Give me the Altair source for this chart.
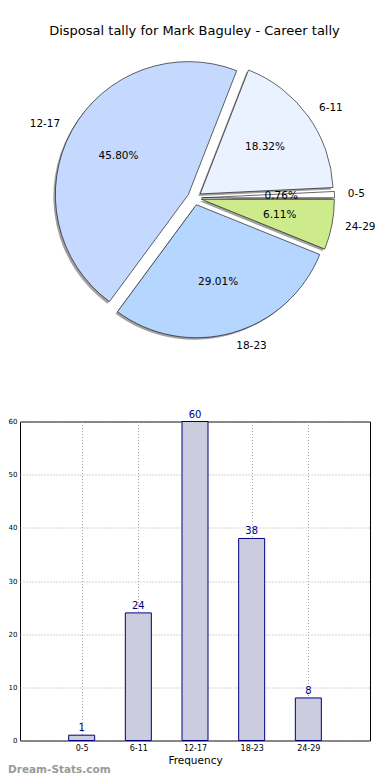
import math
import altair as alt
import pandas as pd

# ---------------- data ----------------
categories = ["0-5", "6-11", "12-17", "18-23", "24-29"]
counts = [1, 24, 60, 38, 8]
pie_colors = ["#ffffff", "#eaf1ff", "#c5d9ff", "#b5d6ff", "#cdeb8b"]
y_ticks = [0, 10, 20, 30, 40, 50, 60]
title_text = "Disposal tally for Mark Baguley - Career tally"
watermark = "Dream-Stats.com"

total = sum(counts)
df = pd.DataFrame({
    "cat": categories,
    "count": counts,
    "idx": list(range(1, len(categories) + 1)),
    "ord": list(range(len(categories), 0, -1)),
    "pct": [f"{c / total * 100:.2f}%" for c in counts],
})

FONT = "DejaVu Sans"
# geometry (relative to bar plot origin at page x=20, y=421.5)
CX, CY, R, EXPL, SH = 174.5, -223.5, 133, 7, 2

base = alt.Chart(df).transform_joinaggregate(
    tot="sum(count)"
).transform_window(
    cum="sum(count)", sort=[alt.SortField("ord")], frame=[None, 0]
).transform_calculate(
    mid="(datum.cum - datum.count/2)/datum.tot*2*PI + PI/2",
).transform_calculate(
    px=f"{CX} + {EXPL}*sin(datum.mid)",
    py=f"{CY} - {EXPL}*cos(datum.mid)",
).transform_calculate(
    sx=f"datum.px - {SH}",
    sy=f"datum.py + {SH}",
    lx=f"datum.px + {R * 1.1}*sin(datum.mid)",
    ly=f"datum.py - {R * 1.1}*cos(datum.mid)",
)

theta = alt.Theta("count:Q", stack=True,
                  scale=alt.Scale(range=[math.pi / 2, math.pi / 2 + 2 * math.pi]))
order = alt.Order("ord:Q")
color = alt.Color("cat:N", scale=alt.Scale(domain=categories, range=pie_colors), legend=None)

shadow = base.mark_arc(radius=R, fill="#8a8a8a", opacity=0.8).encode(
    theta=theta, order=order,
    x=alt.X("sx:Q", scale=None, axis=None), y=alt.Y("sy:Q", scale=None, axis=None),
)
wedges = base.mark_arc(radius=R, stroke="#000000", strokeWidth=0.6).encode(
    theta=theta, order=order, color=color,
    x=alt.X("px:Q", scale=None, axis=None), y=alt.Y("py:Q", scale=None, axis=None),
)
pct_text = base.mark_text(radius=R * 0.6, font=FONT, fontSize=10.5, color="black").encode(
    theta=theta, order=order, text="pct:N",
    x=alt.X("px:Q", scale=None, axis=None), y=alt.Y("py:Q", scale=None, axis=None),
)
lab_right = base.transform_filter("datum.cat != '12-17'").mark_text(
    align="left", baseline="middle", font=FONT, fontSize=10.5, color="black").encode(
    text="cat:N",
    x=alt.X("lx:Q", scale=None, axis=None), y=alt.Y("ly:Q", scale=None, axis=None),
)
lab_left = base.transform_filter("datum.cat == '12-17'").mark_text(
    align="right", baseline="middle", font=FONT, fontSize=10.5, color="black").encode(
    text="cat:N",
    x=alt.X("lx:Q", scale=None, axis=None), y=alt.Y("ly:Q", scale=None, axis=None),
)

title = alt.Chart(pd.DataFrame({"t": [title_text]})).mark_text(
    font=FONT, fontSize=13, color="black", align="center", baseline="middle"
).encode(x=alt.value(174.5), y=alt.value(-391), text="t:N")

wm = alt.Chart(pd.DataFrame({"t": [watermark]})).mark_text(
    font=FONT, fontSize=10.5, fontWeight="bold", color="#9a9a9a", align="left", baseline="middle"
).encode(x=alt.value(-12), y=alt.value(348.5), text="t:N")

pie = alt.layer(shadow, wedges, pct_text, lab_right, lab_left, title, wm)

label_expr = "[" + ",".join(f"'{c}'" for c in categories) + "][datum.value - 1]"

xenc = alt.X("idx:Q", scale=alt.Scale(domain=[0, 6], nice=False, zero=False),
             axis=alt.Axis(values=[1, 2, 3, 4, 5], labelExpr=label_expr, title="Frequency",
                           orient="bottom", grid=True, gridDash=[1, 2], gridColor="#a8a8a8",
                           ticks=False, domain=False, labelFontSize=8, labelFont=FONT,
                           labelColor="black", labelPadding=4, titleFont=FONT,
                           titleFontSize=10.5, titleFontWeight="normal", titleColor="black",
                           titlePadding=3))
yenc = alt.Y("count:Q", scale=alt.Scale(domain=[0, 60], nice=False),
             axis=alt.Axis(values=y_ticks, title=None, orient="left", grid=True,
                           gridDash=[1, 2], gridColor="#a8a8a8", ticks=False, domain=False,
                           labelFontSize=7, labelFont=FONT, labelColor="black",
                           labelPadding=3))

bars = alt.Chart(df).mark_bar(size=26, orient="vertical", fill="#ccccdf",
                              stroke="#00007f", strokeWidth=1).encode(x=xenc, y=yenc)
bar_txt = alt.Chart(df).mark_text(baseline="bottom", dy=-2, font=FONT, fontSize=10,
                                  color="#00007f").encode(x=xenc, y=yenc, text="count:Q")
bar_layer = alt.layer(bars, bar_txt)

chart = alt.layer(bar_layer, pie).resolve_scale(
    x="independent", y="independent"
).properties(
    width=350, height=319,
    autosize=alt.AutoSizeParams(type="none"),
    padding={"left": 12, "top": 413.5, "right": 12, "bottom": 39},
).configure_view(stroke="black", strokeWidth=1)

chart.save("out.html", embed_options={"renderer": "svg", "actions": False})
